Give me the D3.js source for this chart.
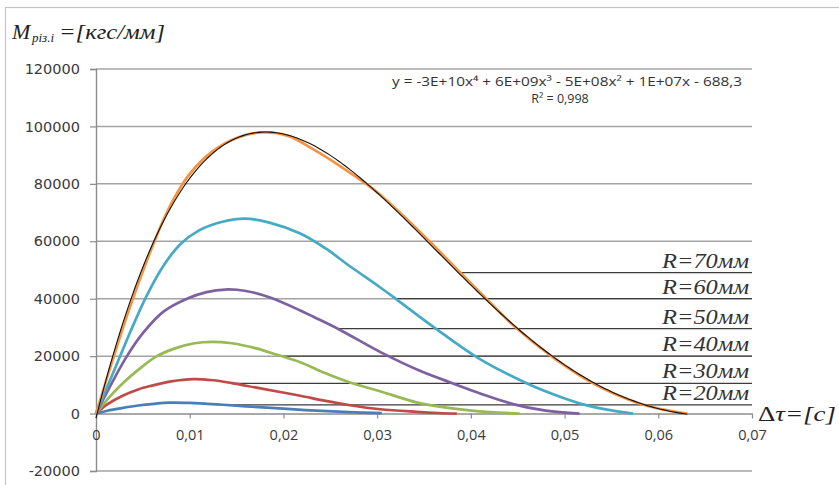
<!DOCTYPE html>
<html>
<head>
<meta charset="utf-8">
<script src="https://cdn.jsdelivr.net/npm/d3@7"></script>
<style>
  html, body { margin: 0; padding: 0; background: #fff; }
  svg { display: block; }
</style>
</head>
<body>
<svg id="chart" width="839" height="485"></svg>
<script>
// Cutting moment M (kgf/mm) versus time Δτ (s) for cutter radii R = 20…70 mm
const seriesNames = ["R=20мм", "R=30мм", "R=40мм", "R=50мм", "R=60мм", "R=70мм"];

const t20 = [0, 0.0012, 0.0029, 0.0045, 0.0062, 0.0079, 0.0100, 0.0129, 0.016, 0.020, 0.0235, 0.027, 0.0305];
const m20 = [0, 1000, 2000, 2800, 3400, 3800, 3700, 3200, 2500, 1700, 1000, 500, 150];

const t30 = [0, 0.0012, 0.0029, 0.0045, 0.0058, 0.008, 0.0104, 0.0125, 0.0145, 0.017, 0.0195, 0.0218, 0.0245, 0.0271, 0.0303, 0.0342, 0.0365, 0.0385];
const m30 = [0, 3200, 6300, 8400, 9600, 11200, 12000, 11600, 10600, 9100, 7600, 6200, 4400, 2900, 1500, 600, 200, 0];

const t40 = [0, 0.0015, 0.003, 0.0048, 0.0065, 0.0085, 0.0105, 0.0124, 0.0145, 0.017, 0.0195, 0.0218, 0.0245, 0.0271, 0.0303, 0.0342, 0.038, 0.042, 0.0452];
const m40 = [0, 6000, 11000, 16000, 20000, 22800, 24500, 25000, 24500, 22800, 20300, 17900, 14000, 10800, 7800, 3900, 1800, 500, 0];

const t50 = [0, 0.0015, 0.0033, 0.005, 0.0072, 0.0097, 0.0118, 0.0138, 0.016, 0.0185, 0.0218, 0.0232, 0.026, 0.0303, 0.0345, 0.0381, 0.041, 0.0445, 0.048, 0.0516];
const m50 = [0, 9500, 20000, 28000, 35500, 40000, 42300, 43200, 42700, 40500, 35900, 33700, 29200, 21500, 15000, 10500, 7000, 3300, 1000, 0];

const t60 = [0, 0.002, 0.0036, 0.0054, 0.0072, 0.009, 0.011, 0.0135, 0.0159, 0.0185, 0.0218, 0.0245, 0.0271, 0.0303, 0.0321, 0.036, 0.0407, 0.046, 0.049, 0.052, 0.055, 0.0573];
const m60 = [0, 15500, 28000, 41000, 51500, 59000, 63800, 66800, 67900, 66500, 62700, 57500, 51300, 44000, 39700, 30200, 19500, 10500, 6500, 3200, 1100, 0];

const t70 = [0, 0.002, 0.0036, 0.0054, 0.0072, 0.0086, 0.010, 0.0125, 0.015, 0.0177, 0.0205, 0.0232, 0.026, 0.0289, 0.0303, 0.033, 0.036, 0.0388, 0.0417, 0.0449, 0.0488, 0.053, 0.0558, 0.0584, 0.061, 0.0631];
const m70 = [0, 21000, 36900, 53000, 67500, 76500, 83500, 91500, 96000, 97900, 96700, 92000, 86300, 79800, 76300, 68200, 58600, 49300, 39800, 29600, 19500, 10600, 6200, 3100, 1100, 0];

// levels of the underlines that lead each radius label to its curve
const leaderLevels = [3000, 10500, 20000, 29600, 40000, 49100];

const yTicks = [-20000, 0, 20000, 40000, 60000, 80000, 100000, 120000];
const xTicks = [0, 0.01, 0.02, 0.03, 0.04, 0.05, 0.06, 0.07];

const trendText = "y = -3E+10x\u2074 + 6E+09x\u00B3 - 5E+08x\u00B2 + 1E+07x - 688,3";
const r2Text = "R\u00B2 = 0,998";

const seriesColors = ["#4a7ebb", "#be4b48", "#98b954", "#7d60a0", "#46aac5", "#f69240"];

const seriesT = [t20, t30, t40, t50, t60, t70];
const seriesM = [m20, m30, m40, m50, m60, m70];
const series = seriesNames.map((name, i) => ({
  name,
  color: seriesColors[i],
  level: leaderLevels[i],
  points: seriesT[i].map((t, j) => ({ t, m: seriesM[i][j] }))
}));

const svg = d3.select("#chart");
const plotLeft = 96, plotRight = 752, plotTop = 69, plotBottom = 471;

const x = d3.scaleLinear().domain([0, 0.07]).range([plotLeft, plotRight]);
const y = d3.scaleLinear().domain([-20000, 120000]).range([plotBottom, plotTop]);

// outer frame of the chart object
svg.append("rect")
  .attr("x", 5.5).attr("y", 7.5).attr("width", 900).attr("height", 600)
  .attr("fill", "none").attr("stroke", "#c4c4c4").attr("stroke-width", 1.2);

// horizontal gridlines
svg.append("g")
  .selectAll("line")
  .data(yTicks.filter(d => d !== 0))
  .join("line")
  .attr("x1", plotLeft).attr("x2", plotRight)
  .attr("y1", d => y(d)).attr("y2", d => y(d))
  .attr("stroke", "#a3a3a3").attr("stroke-width", 1.5);

const tickFont = "'Open Sans', 'Liberation Sans', sans-serif";

// y axis
const yAxis = svg.append("g")
  .attr("transform", `translate(${plotLeft},0)`)
  .call(d3.axisLeft(y).tickValues(yTicks).tickFormat(d => String(d)).tickSize(6).tickPadding(10));
yAxis.select(".domain").attr("stroke", "#8c8c8c").attr("stroke-width", 1.4);
yAxis.selectAll(".tick line").attr("stroke", "#8c8c8c").attr("stroke-width", 1.2);
yAxis.selectAll("text")
  .attr("font-family", "'DejaVu Sans', sans-serif")
  .attr("font-size", 14.5).attr("fill", "#3a3a3a");

// x axis through zero
const xAxis = svg.append("g")
  .attr("transform", `translate(0,${y(0)})`)
  .call(d3.axisBottom(x).tickValues(xTicks)
    .tickFormat(d => d === 0 ? "0" : d.toFixed(2).replace(".", ","))
    .tickSize(5).tickPadding(11).tickSizeOuter(0));
xAxis.select(".domain").attr("stroke", "#8c8c8c").attr("stroke-width", 1.4);
xAxis.selectAll(".tick line").attr("stroke", "#8c8c8c").attr("stroke-width", 1.2);
xAxis.selectAll("text")
  .attr("font-family", tickFont)
  .attr("font-size", 14.5).attr("fill", "#3a3a3a");

// leader lines: from the falling branch of each curve to the right edge
function descendingCrossing(points, level) {
  const iPeak = d3.maxIndex(points, p => p.m);
  for (let j = iPeak; j < points.length - 1; j++) {
    const a = points[j], b = points[j + 1];
    if (a.m >= level && b.m <= level) {
      const f = (a.m - level) / (a.m - b.m);
      return a.t + f * (b.t - a.t);
    }
  }
  return points[iPeak].t;
}

svg.append("g")
  .selectAll("line")
  .data(series)
  .join("line")
  .attr("x1", d => x(descendingCrossing(d.points, d.level)))
  .attr("x2", plotRight)
  .attr("y1", d => y(d.level)).attr("y2", d => y(d.level))
  .attr("stroke", "#3c3c3c").attr("stroke-width", 1.2);

// measured curves
const line = d3.line().x(p => x(p.t)).y(p => y(p.m)).curve(d3.curveCatmullRom.alpha(0.5));
svg.append("g")
  .selectAll("path")
  .data(series)
  .join("path")
  .attr("d", d => line(d.points))
  .attr("fill", "none")
  .attr("stroke", d => d.color)
  .attr("stroke-width", 2.7)
  .attr("stroke-linejoin", "round");

// 4th-order polynomial trendline fitted to the R=70 curve
function polyFit(xs, ys, deg) {
  const n = deg + 1;
  const A = Array.from({ length: n }, () => new Array(n + 1).fill(0));
  xs.forEach((xv, k) => {
    const pw = [];
    for (let p = 0; p <= 2 * deg; p++) pw.push(Math.pow(xv, p));
    for (let r = 0; r < n; r++) {
      for (let c = 0; c < n; c++) A[r][c] += pw[r + c];
      A[r][n] += pw[r] * ys[k];
    }
  });
  for (let c = 0; c < n; c++) {
    let piv = c;
    for (let r = c + 1; r < n; r++) if (Math.abs(A[r][c]) > Math.abs(A[piv][c])) piv = r;
    [A[c], A[piv]] = [A[piv], A[c]];
    for (let r = 0; r < n; r++) {
      if (r === c) continue;
      const f = A[r][c] / A[c][c];
      for (let k = c; k <= n; k++) A[r][k] -= f * A[c][k];
    }
  }
  return A.map((row, r) => row[n] / row[r]);
}
const scaleT = 100; // fit in centiseconds for conditioning
const coef = polyFit(t70.map(t => t * scaleT), m70, 4);
const trendAt = t => coef.reduce((s, c, p) => s + c * Math.pow(t * scaleT, p), 0);
const tEnd = t70[t70.length - 1];
const trendPts = d3.range(0, 201).map(k => {
  const t = tEnd * k / 200;
  return { t, m: trendAt(t) };
});
svg.append("path")
  .attr("d", d3.line().x(p => x(p.t)).y(p => y(p.m))(trendPts))
  .attr("fill", "none").attr("stroke", "#111").attr("stroke-width", 1.1);

// trendline equation
const eq = svg.append("g")
  .attr("font-family", tickFont)
  .attr("font-size", 12.5).attr("fill", "#333");
eq.append("text").attr("x", 392).attr("y", 86)
  .attr("textLength", 350).attr("lengthAdjust", "spacingAndGlyphs").text(trendText);
eq.append("text").attr("x", 560).attr("y", 103).attr("text-anchor", "middle").text(r2Text);

// radius labels above their leader lines
const serif = "'Liberation Serif', 'DejaVu Serif', serif";
svg.append("g")
  .selectAll("text")
  .data(series)
  .join("text")
  .attr("x", plotRight - 90)
  .attr("y", d => y(d.level) - 5)
  .attr("textLength", 87)
  .attr("lengthAdjust", "spacingAndGlyphs")
  .attr("font-family", serif)
  .attr("font-style", "italic")
  .attr("font-size", 20)
  .attr("fill", "#333")
  .text(d => d.name);

// axis titles
const yTitle = svg.append("g")
  .attr("font-family", serif).attr("font-style", "italic").attr("fill", "#222");
yTitle.append("text").attr("x", 12).attr("y", 39).attr("font-size", 22).text("M");
yTitle.append("text").attr("x", 32).attr("y", 42).attr("font-size", 13).text("різ.і");
yTitle.append("text").attr("x", 59).attr("y", 39).attr("font-size", 22)
  .attr("textLength", 106).attr("lengthAdjust", "spacingAndGlyphs").text("=[кгс/мм]");

const xTitle = svg.append("text")
  .attr("x", 758).attr("y", 421)
  .attr("textLength", 78).attr("lengthAdjust", "spacingAndGlyphs")
  .attr("font-family", serif)
  .attr("font-size", 22).attr("fill", "#222");
xTitle.append("tspan").text("Δ");
xTitle.append("tspan").attr("font-style", "italic").text("τ=[с]");
</script>
</body>
</html>
